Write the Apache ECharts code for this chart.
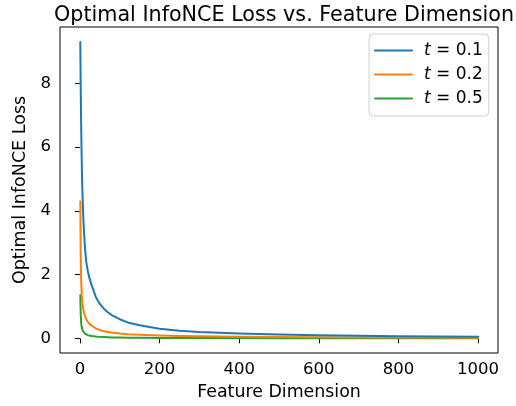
<!DOCTYPE html>
<html>
<head>
<meta charset="utf-8">
<script src="https://cdn.jsdelivr.net/npm/echarts@6/dist/echarts.min.js"></script>
<style>
  html, body { margin: 0; padding: 0; background: #fff; }
  #main { width: 516px; height: 406px; }
</style>
</head>
<body>
<div id="main"></div>
<script>
const dims = [1, 2, 3, 4, 5, 6, 8, 10, 13, 16, 20, 25, 30, 40, 50, 60, 70, 80,
  100, 120, 150, 200, 250, 300, 400, 500, 600, 700, 800, 900, 1000];

// loss values, t = 0.1 / 0.2 / 0.5
const lossT01 = [9.3, 8.0, 6.9, 6.0, 5.3, 4.75, 3.95, 3.4, 2.8, 2.4, 2.1, 1.85, 1.65,
  1.3, 1.08, 0.93, 0.82, 0.73, 0.6, 0.5, 0.41, 0.3, 0.24, 0.2, 0.15, 0.12,
  0.095, 0.08, 0.068, 0.058, 0.05];
const lossT02 = [4.3, 2.7, 1.95, 1.55, 1.3, 1.14, 0.95, 0.82, 0.7, 0.6, 0.52, 0.44, 0.38,
  0.31, 0.26, 0.22, 0.2, 0.18, 0.15, 0.13, 0.11, 0.09, 0.075, 0.064, 0.05, 0.04,
  0.034, 0.03, 0.026, 0.023, 0.021];
const lossT05 = [1.35, 0.8, 0.52, 0.4, 0.33, 0.28, 0.22, 0.18, 0.15, 0.12, 0.1, 0.085,
  0.072, 0.056, 0.046, 0.039, 0.034, 0.03, 0.025, 0.021, 0.017, 0.013, 0.011,
  0.009, 0.007, 0.006, 0.005, 0.004, 0.004, 0.003, 0.003];

const seriesNames = ["t = 0.1", "t = 0.2", "t = 0.5"];
const seriesColors = ["#1f77b4", "#ff7f0e", "#2ca02c"];
const xTicks = [0, 200, 400, 600, 800, 1000];
const yTicks = [0, 2, 4, 6, 8];

const font = "DejaVu Sans";
const chart = echarts.init(document.getElementById("main"), null, { renderer: "canvas" });

function pairs(ys) {
  return dims.map((d, i) => [d, ys[i]]);
}

const option = {
  animation: false,
  backgroundColor: "#fff",
  textStyle: { fontFamily: font },
  title: {
    text: "Optimal InfoNCE Loss vs. Feature Dimension",
    left: 279,
    textAlign: "center",
    top: 0,
    textStyle: { fontFamily: font, fontSize: 20.7, fontWeight: "normal", color: "#000" }
  },
  legend: {
    data: seriesNames,
    orient: "vertical",
    left: 369,
    top: 34,
    padding: [8, 6, 9, 5],
    itemWidth: 37,
    itemHeight: 14,
    itemGap: 7,
    borderColor: "#d0d0d0",
    borderWidth: 1,
    borderRadius: 4,
    backgroundColor: "rgba(255,255,255,0.8)",
    itemStyle: { opacity: 0 },
    formatter: (name) => "{i|t}" + name.slice(1),
    textStyle: {
      fontFamily: font, fontSize: 17, color: "#000", padding: [0, 0, 0, 7],
      rich: { i: { fontFamily: font, fontStyle: "italic", fontSize: 17, color: "#000" } }
    }
  },
  grid: {
    left: 60, top: 27, width: 438, height: 327,
    show: true, borderColor: "#000", borderWidth: 1, backgroundColor: "transparent"
  },
  xAxis: {
    type: "value",
    min: -49.95,
    max: 1049.95,
    name: "Feature Dimension",
    nameLocation: "middle",
    nameGap: 31,
    nameTextStyle: { fontFamily: font, fontSize: 17.4, color: "#000" },
    axisLine: { show: false },
    splitLine: { show: false },
    axisTick: { show: true, length: 5, customValues: xTicks, lineStyle: { color: "#000" } },
    axisLabel: {
      customValues: xTicks, margin: 8, fontFamily: font, fontSize: 16.5, color: "#000",
      formatter: (v) => String(v)
    }
  },
  yAxis: {
    type: "value",
    min: -0.46,
    max: 9.77,
    name: "Optimal InfoNCE Loss",
    nameLocation: "middle",
    nameGap: 27,
    nameTextStyle: { fontFamily: font, fontSize: 17.5, color: "#000" },
    axisLine: { show: false },
    splitLine: { show: false },
    axisTick: { show: true, length: 5, customValues: yTicks, lineStyle: { color: "#000" } },
    axisLabel: { customValues: yTicks, margin: 9, fontFamily: font, fontSize: 16.5, color: "#000" }
  },
  series: [lossT01, lossT02, lossT05].map((ys, k) => ({
    name: seriesNames[k],
    type: "line",
    data: pairs(ys),
    showSymbol: false,
    symbol: "none",
    smooth: false,
    color: seriesColors[k],
    lineStyle: { color: seriesColors[k], width: 2, join: "round", cap: "round" },
    z: 3 - k
  }))
};

chart.setOption(option);
</script>
</body>
</html>
